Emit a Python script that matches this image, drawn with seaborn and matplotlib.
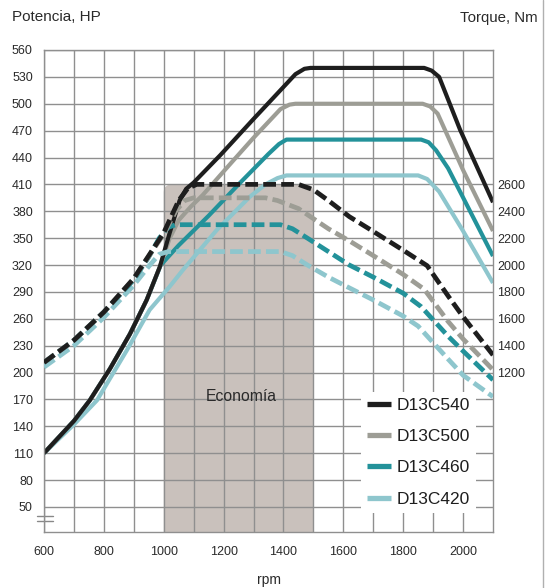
import matplotlib
matplotlib.use("Agg")
import matplotlib.pyplot as plt
from matplotlib.patches import FancyBboxPatch
from matplotlib.lines import Line2D
import seaborn as sns

# power curves (HP) - solid lines
d540_rpm = [600, 700, 753, 820, 887, 943, 987, 1020, 1053, 1075, 1100, 1190, 1300, 1440, 1470, 1490, 1870, 1895, 1920, 1990, 2100]
d540_hp = [110, 146, 169, 204, 243, 281, 318, 356, 392, 405, 412, 443, 483, 533, 539, 540, 540, 537, 530, 471, 390]

d500_rpm = [600, 700, 753, 820, 887, 943, 987, 1020, 1050, 1090, 1130, 1220, 1300, 1390, 1420, 1440, 1865, 1890, 1915, 2000, 2100]
d500_hp = [110, 146, 169, 204, 243, 281, 318, 350, 370, 385, 398, 432, 462, 494, 499, 500, 500, 497, 489, 426, 358]

d460_rpm = [600, 700, 753, 820, 887, 943, 990, 1050, 1150, 1250, 1350, 1385, 1410, 1860, 1885, 1910, 1950, 2100]
d460_hp = [110, 146, 169, 204, 243, 281, 320, 342, 375, 410, 444, 455, 460, 460, 457, 448, 428, 330]

d420_rpm = [600, 700, 777, 877, 953, 1020, 1063, 1177, 1287, 1340, 1380, 1410, 1850, 1880, 1920, 2000, 2100]
d420_hp = [110, 142, 169, 225, 270, 296, 314, 359, 396, 410, 417, 420, 420, 416, 402, 358, 300]

# torque curves (Nm) - dashed lines
t540_rpm = [600, 700, 800, 900, 1000, 1050, 1080, 1110, 1450, 1500, 1550, 1620, 1700, 1800, 1880, 1950, 2000, 2100]
t540_nm = [1275, 1440, 1650, 1900, 2240, 2480, 2570, 2600, 2600, 2560, 2480, 2360, 2250, 2110, 1995, 1770, 1615, 1330]

t500_rpm = [600, 700, 800, 900, 1000, 1040, 1070, 1100, 1340, 1380, 1450, 1550, 1620, 1700, 1800, 1870, 1950, 2000, 2100]
t500_nm = [1275, 1440, 1650, 1900, 2230, 2400, 2480, 2500, 2500, 2480, 2420, 2270, 2180, 2070, 1930, 1820, 1580, 1450, 1220]

t460_rpm = [600, 700, 800, 900, 950, 985, 1015, 1040, 1390, 1430, 1480, 1550, 1620, 1700, 1800, 1860, 1950, 2000, 2100]
t460_nm = [1275, 1440, 1650, 1890, 2060, 2200, 2280, 2300, 2300, 2270, 2200, 2100, 2000, 1910, 1790, 1690, 1470, 1360, 1145]

t420_rpm = [600, 700, 800, 900, 950, 985, 1015, 1390, 1430, 1480, 1550, 1620, 1700, 1800, 1850, 1950, 2000, 2100]
t420_nm = [1240, 1400, 1610, 1850, 1990, 2080, 2100, 2100, 2070, 2000, 1910, 1830, 1740, 1620, 1545, 1300, 1180, 1020]

models = ["D13C540", "D13C500", "D13C460", "D13C420"]
colors = ["#1e1e1e", "#9d9d95", "#23929a", "#8ec6cd"]

x_ticks = list(range(600, 2001, 200))
hp_ticks = list(range(50, 561, 30))
nm_ticks = list(range(1200, 2601, 200))
eco_range = (1000, 1500)
eco_top = 410

sns.set_style("white")
plt.rcParams["font.family"] = ["Liberation Sans", "DejaVu Sans"]

fig = plt.figure(figsize=(5.52, 5.88), dpi=100)
ax = fig.add_axes([44 / 552, 1 - 532 / 588, 449 / 552, 482 / 588])
grid_c = "#8f8f8f"

ax.set_xlim(600, 2100)
ax.set_ylim(22, 560)
ax.set_xticks(x_ticks)
ax.set_xticks(list(range(700, 2100, 200)), minor=True)
ax.set_yticks(hp_ticks)
ax.set_axisbelow(True)
ax.grid(True, which="both", axis="x", color=grid_c, lw=1.0)
ax.grid(True, which="major", axis="y", color=grid_c, lw=1.0)
ax.tick_params(axis="both", which="both", length=0, labelsize=9, colors="#2a2a2a")
ax.tick_params(axis="x", pad=10)
ax.tick_params(axis="y", pad=8)
for s in ax.spines.values():
    s.set_color(grid_c)
    s.set_linewidth(1.0)

# economy zone
rx = 27
ry = rx * (0.3 / 0.896)
eco = FancyBboxPatch((eco_range[0], -50), eco_range[1] - eco_range[0], eco_top + 50,
                     boxstyle="round,pad=0,rounding_size=%f" % rx,
                     mutation_aspect=ry / rx, facecolor="#c9c1bc", edgecolor="none", zorder=0.2)
ax.add_patch(eco)
ax.text(1260, 173, "Economía", ha="center", va="center", fontsize=11.3, color="#2a2a2a")

power = [(d540_rpm, d540_hp), (d500_rpm, d500_hp), (d460_rpm, d460_hp), (d420_rpm, d420_hp)]
torque = [(t540_rpm, t540_nm), (t500_rpm, t500_nm), (t460_rpm, t460_nm), (t420_rpm, t420_nm)]

handles = {}
for i in [3, 2, 1, 0]:
    r, v = power[i]
    sns.lineplot(x=r, y=v, ax=ax, color=colors[i], linewidth=3.0, label=models[i],
                 solid_joinstyle="round", solid_capstyle="butt", zorder=2)
    handles[models[i]] = ax.lines[-1]
if ax.get_legend():
    ax.get_legend().remove()

ax2 = ax.twinx()
ax2.set_ylim(1200 + (22 - 200) * 20 / 3, 1200 + (560 - 200) * 20 / 3)
ax2.set_yticks(nm_ticks)
ax2.tick_params(axis="y", length=0, labelsize=9, pad=3, colors="#2a2a2a")
ax2.grid(False)
for s in ax2.spines.values():
    s.set_visible(False)

for i in [3, 2, 1, 0]:
    r, v = torque[i]
    sns.lineplot(x=r, y=v, ax=ax2, color=colors[i], linewidth=3.4,
                 linestyle=(0, (2.7, 1.1)), dash_joinstyle="round", zorder=3)

ax.set_xlabel("rpm", fontsize=10, color="#2a2a2a", labelpad=11)
ax.set_ylabel("")
ax2.set_ylabel("")

leg = ax2.legend([handles[m] for m in models], models, loc="upper left",
                 bbox_to_anchor=(361 / 552, 1 - 392 / 588), bbox_transform=fig.transFigure,
                 frameon=True, fontsize=12.5, handlelength=1.4, handletextpad=0.3,
                 labelspacing=0.92, borderpad=0.35, borderaxespad=0, fancybox=False)
leg.get_frame().set_facecolor("white")
leg.get_frame().set_edgecolor("none")
leg.get_frame().set_alpha(1)
for ln in leg.get_lines():
    ln.set_linewidth(3.8)
for t in leg.get_texts():
    t.set_color("#1e1e1e")

# axis break mark
for yb in (0.034, 0.023):
    ax.add_line(Line2D([-0.016, 0.02], [yb, yb], transform=ax.transAxes, color="#888888",
                       lw=1.0, clip_on=False))

fig.text(12 / 552, 1 - 17 / 588, "Potencia, HP", ha="left", va="center", fontsize=11, color="#2a2a2a")
fig.text(538 / 552, 1 - 18 / 588, "Torque, Nm", ha="right", va="center", fontsize=10.8, color="#2a2a2a")
fig.add_artist(Line2D([543 / 552, 543 / 552], [0, 1], transform=fig.transFigure, color="#b0b0b0", lw=1.0))

fig.savefig("out.png", dpi=100)
